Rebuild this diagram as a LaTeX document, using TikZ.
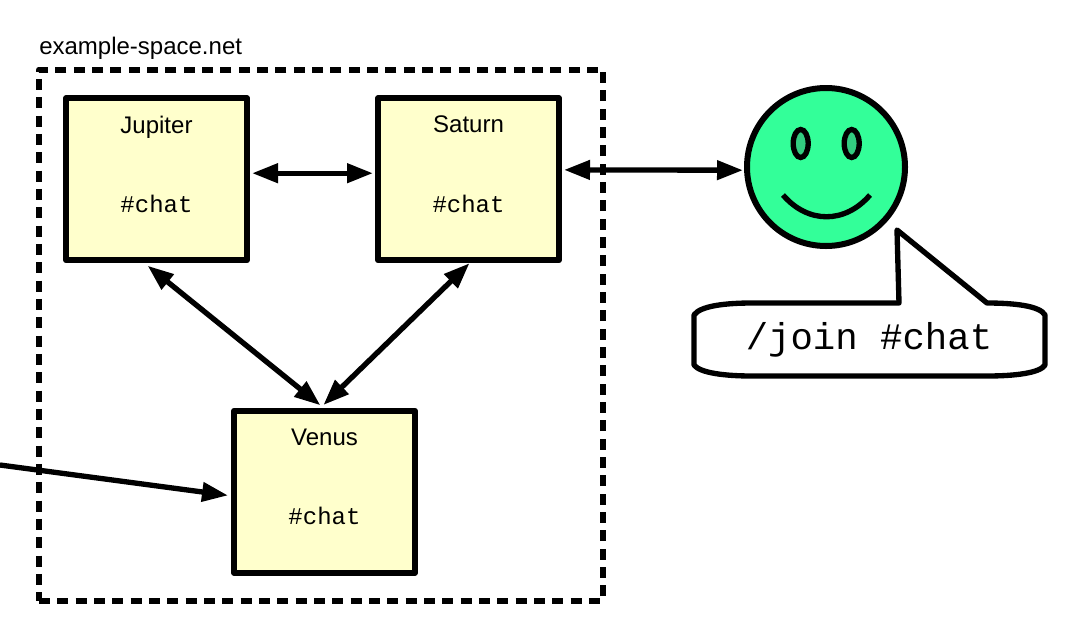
\documentclass[tikz,border=0pt]{standalone}
\usepackage{fontspec}
\setmainfont{Liberation Sans}
\setmonofont{Liberation Mono}
\usetikzlibrary{arrows.meta,shapes.geometric,calc}

\definecolor{boxfill}{HTML}{FFFFCC}
\definecolor{facefill}{HTML}{33FF99}
\definecolor{eyefill}{HTML}{33CC80}

\tikzset{
  server/.style={draw,fill=boxfill,line width=4.5pt,line join=round,
    minimum width=135.75pt,minimum height=121.5pt,inner sep=0pt,align=center,
    font=\fontsize{18}{21.6}\selectfont},
  link/.style={line width=4pt,shorten >=1.5pt,shorten <=1.5pt},
  eye/.style={draw,ellipse,fill=eyefill,line width=4pt,
    minimum width=11.25pt,minimum height=21pt,inner sep=0pt}
}

\newcommand{\servertext}[1]{#1\\[38pt]\texttt{\#chat}\\[1pt]~}

\begin{document}
\begin{tikzpicture}[x=0.75pt,y=-0.75pt,>={Triangle[length=19.5pt,width=14pt]},node distance=234pt]
    \useasboundingbox (0,0) rectangle (1081,636);

    \node[draw,dashed,dash pattern=on 8.25pt off 5.5pt,line width=4.5pt,line join=round,
      minimum width=423pt,minimum height=398.25pt,inner sep=0pt] (space) at (321,335) {};
    \node[anchor=south west,inner sep=0pt,font=\fontsize{18}{21.6}\selectfont] (spacename)
      at (39,60) {example-space.net};

    \node[server] (jupiter) at (156.5,179.2) {\servertext{Jupiter}};
    \node[server] (saturn) [right of=jupiter] {\servertext{Saturn}};
    \node[server] (venus) at (324.5,491.8) {\servertext{Venus}};

    \node[draw,circle,fill=facefill,line width=4.5pt,minimum size=118.5pt,inner sep=0pt] (face) at (826,167) {};
    \node[eye] (lefteye) at (800.7,143.5) {};
    \node[eye] (righteye) at (851.7,143.5) {};
    \draw[line width=4pt] (783,195) .. controls (808,224) and (845,224) .. (870,195);

    \draw[fill=white,line width=4pt,line join=round]
      (694,315) .. controls (700,306) and (725,303) .. (752,303)
      -- (899,303) -- (897,230) -- (987,303)
      .. controls (1015,303) and (1040,306) .. (1045,315)
      -- (1045,365)
      .. controls (1040,373) and (1015,376) .. (987,376)
      -- (752,376)
      .. controls (725,376) and (700,373) .. (694,365) -- cycle;
    \node[inner sep=0pt,font=\ttfamily\fontsize{28}{33}\selectfont] (joinmsg) at (869,340) {/join \#chat};

    \coordinate (outside) at (0,465);

    \draw[link,<->] ([yshift=4.5pt]jupiter.east) -- ([yshift=4.5pt]saturn.west);
    \draw[link,<->,shorten >=0.75pt] ([yshift=7pt]saturn.east) -- (face.west |- {$(saturn.east)+(0,-9)$});
    \draw[link,<->,shorten <=3pt,shorten >=3pt] ([xshift=-9pt]jupiter.south) -- ([xshift=-0.75pt]venus.north);
    \draw[link,<->,shorten <=0pt,shorten >=3pt] ([xshift=0.75pt]saturn.south) -- ([xshift=-3pt]venus.north);
    \draw[link,->,shorten <=0pt,shorten >=2.25pt] (outside) -- ([yshift=-3pt]venus.west);
\end{tikzpicture}
\end{document}
